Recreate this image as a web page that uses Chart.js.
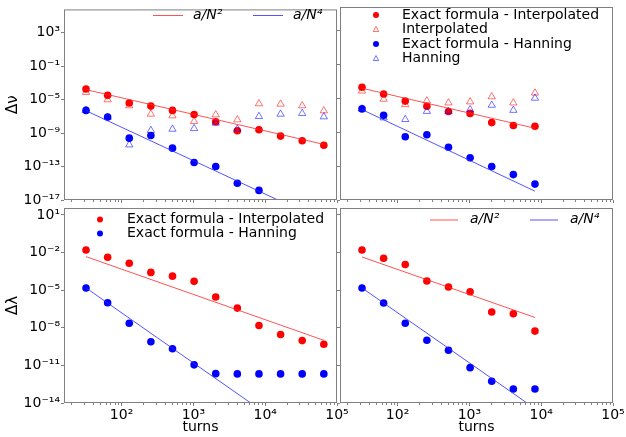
<!DOCTYPE html>
<html>
<head>
<meta charset="utf-8">
<script src="https://cdn.jsdelivr.net/npm/chart.js@4.4.0/dist/chart.umd.min.js"></script>
<style>
  body { margin: 0; background: #fff; }
  #wrap { position: relative; width: 626px; height: 437px; }
  #wrap canvas { position: absolute; left: 0; top: 0; }
</style>
</head>
<body>
<div id="wrap">
  <canvas id="nu-left" width="626" height="437"></canvas>
  <canvas id="nu-right" width="626" height="437"></canvas>
  <canvas id="lam-left" width="626" height="437"></canvas>
  <canvas id="lam-right" width="626" height="437"></canvas>
</div>
<script>
// turns (x values)
const turnsLong = [32, 64, 128, 256, 512, 1024, 2048, 4096, 8192, 16384, 32768, 65536]
const turnsShort = [32, 64, 128, 256, 512, 1024, 2048, 4096, 8192]
const fitTurnsLong = [32, 65536]
const fitTurnsShort = [32, 8192]

// Δν, left panel
const nuL_exactInterp = [1.9e-4, 3.3e-5, 4.0e-6, 1.7e-6, 5.2e-7, 1.7e-7, 2.3e-8, 1.9e-9, 2.5e-9, 4.4e-10, 1.2e-10, 3.6e-11]
const nuL_interp = [7.6e-5, 1.0e-5, 1.9e-6, 1.9e-7, 1.2e-7, 2.5e-8, 1.6e-7, 4.0e-8, 3.3e-6, 3.0e-6, 1.9e-6, 4.8e-7]
const nuL_exactHann = [5.2e-7, 8.3e-8, 2.5e-10, 5.2e-10, 1.6e-11, 3.0e-13, 1.0e-13, 1.0e-15, 1.4e-16]
const nuL_hann = [5.2e-7, 7.9e-8, 4.0e-11, 2.1e-9, 3.0e-9, 3.6e-9, 1.6e-8, 3.0e-9, 1.0e-7, 1.9e-7, 2.3e-7, 9.1e-8]
const nuL_fitN2 = [1.6e-4, 4.5e-11]
const nuL_fitN4 = [4.8e-7, 2.8e-20]

// Δν, right panel
const nuR_exactInterp = [2.1e-4, 3.3e-5, 4.8e-6, 1.2e-6, 2.8e-7, 1.7e-7, 1.4e-8, 6.3e-9, 5.2e-9]
const nuR_interp = [7.6e-5, 8.3e-6, 1.9e-6, 5.2e-6, 3.0e-6, 4.0e-6, 1.6e-5, 3.0e-6, 4.4e-5]
const nuR_exactHann = [5.8e-7, 1.0e-7, 3.0e-10, 5.2e-10, 1.7e-11, 1.0e-12, 9.1e-14, 1.0e-14, 7.6e-16]
const nuR_hann = [5.8e-7, 5.2e-8, 3.3e-8, 3.0e-7, 3.0e-7, 4.8e-7, 1.6e-6, 4.0e-7, 1.1e-5]
const nuR_fitN2 = [1.6e-4, 3.0e-9]
const nuR_fitN4 = [4.8e-7, 1.1e-16]

// Δλ, left panel
const lamL_exactInterp = [1.6e-2, 4.2e-3, 1.4e-3, 2.6e-4, 1.3e-4, 5.0e-5, 2.8e-6, 3.7e-7, 1.5e-8, 2.9e-9, 9.5e-10, 4.9e-10]
const lamL_exactHann = [1.5e-5, 9.8e-7, 2.3e-8, 7.6e-10, 2.1e-10, 1.1e-11, 2.2e-12, 2.1e-12, 2.1e-12, 2.1e-12, 2.1e-12, 2.1e-12]
const lamL_fitN2 = [4.7e-3, 1.0e-9]
const lamL_fitN4 = [1.5e-5, 8.5e-19]

// Δλ, right panel
const lamR_exactInterp = [1.6e-2, 3.5e-3, 1.1e-3, 5.4e-5, 1.8e-5, 7.4e-6, 1.8e-7, 1.3e-7, 5.4e-9]
const lamR_exactHann = [1.5e-5, 9.3e-7, 2.3e-8, 1.0e-9, 1.6e-10, 6.6e-12, 5.4e-13, 1.3e-13, 1.3e-13]
const lamR_fitN2 = [4.4e-3, 6.6e-8]
const lamR_fitN4 = [1.5e-5, 3.6e-15]

// tick labels
const xTicks = [1e2, 1e3, 1e4, 1e5]
const nuTicks = [1e-17, 1e-13, 1e-9, 1e-5, 1e-1, 1e3]
const lamTicks = [1e-14, 1e-11, 1e-8, 1e-5, 1e-2, 1e1]

const W = 626, H = 437
const RED = "#ff0000"
const BLUE = "#0000ff"
const RED_LIGHT = "rgba(255,0,0,0.55)"
const BLUE_LIGHT = "rgba(0,0,255,0.55)"
const RED_LINE = "rgba(255,40,40,0.8)"
const BLUE_LINE = "rgba(40,40,255,0.8)"
const FONT = "DejaVu Sans"

const SUP = { "-": "\u207b", "0": "\u2070", "1": "\u00b9", "2": "\u00b2", "3": "\u00b3", "4": "\u2074",
  "5": "\u2075", "6": "\u2076", "7": "\u2077", "8": "\u2078", "9": "\u2079" }
function pow10Label(v) {
  const e = Math.round(Math.log10(v))
  return "10" + String(e).split("").map(c => SUP[c]).join("")
}

const pts = (xs, ys) => ys.map((y, i) => ({ x: xs[i], y }))

function dots(label, xs, ys, color) {
  return { label, data: pts(xs, ys), backgroundColor: color, borderColor: color,
    pointStyle: "circle", pointRadius: 3.8, borderWidth: 0, showLine: false }
}
function tris(label, xs, ys, color) {
  return { label, data: pts(xs, ys), backgroundColor: "rgba(0,0,0,0)", borderColor: color,
    pointStyle: "triangle", pointRadius: 4.2, borderWidth: 1, showLine: false }
}
function fit(label, xs, ys, color) {
  return { label, data: pts(xs, ys), borderColor: color, backgroundColor: color,
    pointRadius: 0, borderWidth: 1, showLine: true }
}

const framePlugin = {
  id: "frame",
  afterDatasetsDraw(chart) {
    const { ctx, chartArea: a } = chart
    ctx.save()
    ctx.strokeStyle = "#808080"
    ctx.lineWidth = 1
    ctx.strokeRect(a.left + 0.5, a.top + 0.5, a.right - a.left - 1, a.bottom - a.top - 1)
    // minor ticks on the log x axis
    const xs = chart.scales.x
    ctx.beginPath()
    for (let d = 1; d < 5; d++) {
      for (let k = 2; k < 10; k++) {
        const v = k * Math.pow(10, d)
        if (v < xs.min || v > xs.max) continue
        const px = Math.round(xs.getPixelForValue(v)) + 0.5
        ctx.moveTo(px, a.bottom)
        ctx.lineTo(px, a.bottom + 2)
      }
    }
    ctx.stroke()
    ctx.restore()
  }
}

const legendPlugin = {
  id: "panelLegend",
  afterDraw(chart, args, opts) {
    if (!opts || !opts.items) return
    const ctx = chart.ctx
    ctx.save()
    ctx.textBaseline = "middle"
    ctx.textAlign = "left"
    opts.items.forEach(it => {
      if (it.kind === "line") {
        ctx.strokeStyle = it.color
        ctx.lineWidth = 1
        ctx.beginPath()
        ctx.moveTo(it.x0, it.y + 0.5)
        ctx.lineTo(it.x1, it.y + 0.5)
        ctx.stroke()
        ctx.font = "italic 14px '" + FONT + "'"
      } else if (it.kind === "dot") {
        ctx.fillStyle = it.color
        ctx.beginPath()
        ctx.arc(it.x0, it.y, 3, 0, Math.PI * 2)
        ctx.fill()
        ctx.font = "14px '" + FONT + "'"
      } else {
        ctx.strokeStyle = it.color
        ctx.lineWidth = 1
        ctx.beginPath()
        ctx.moveTo(it.x0, it.y - 3)
        ctx.lineTo(it.x0 + 2.7, it.y + 2)
        ctx.lineTo(it.x0 - 2.7, it.y + 2)
        ctx.closePath()
        ctx.stroke()
        ctx.font = "14px '" + FONT + "'"
      }
      ctx.fillStyle = "#000"
      ctx.fillText(it.text, it.tx, it.y)
    })
    ctx.restore()
  }
}

function panel(id, area, o) {
  const n = o.datasets.length
  o.datasets.forEach((d, i) => { d.order = n - i })
  return new Chart(document.getElementById(id), {
    type: "scatter",
    data: { datasets: o.datasets },
    options: {
      responsive: false,
      animation: false,
      events: [],
      layout: { autoPadding: false, padding: { left: 0, top: area.t, right: W - area.r, bottom: 0 } },
      plugins: { legend: { display: false }, tooltip: { enabled: false }, panelLegend: o.legend },
      scales: {
        x: {
          type: "logarithmic", min: 15.8, max: 1e5,
          afterFit: s => { s.height = H - area.b },
          afterBuildTicks: s => { s.ticks = xTicks.map(v => ({ value: v })) },
          ticks: { display: o.xLabels, callback: v => pow10Label(v), autoSkip: false, maxRotation: 0,
            padding: 1, color: "#000", font: { family: FONT, size: 14 } },
          grid: { drawOnChartArea: false, tickLength: 3, tickColor: "#808080" },
          border: { display: false },
          title: { display: o.xLabels, text: "turns", color: "#000", font: { family: FONT, size: 14 },
            padding: { top: 0, bottom: 1 } }
        },
        y: {
          type: "logarithmic", min: o.yMin, max: o.yMax,
          afterFit: s => { s.width = area.l },
          afterBuildTicks: s => { s.ticks = o.yTicks.map(v => ({ value: v })) },
          ticks: { display: o.yLabels, callback: v => pow10Label(v), autoSkip: false,
            padding: 1, color: "#000", font: { family: FONT, size: 14 } },
          grid: { drawOnChartArea: false, tickLength: 3, tickColor: "#808080" },
          border: { display: false },
          title: { display: !!o.yTitle, text: o.yTitle || "", color: "#000", font: { family: FONT, size: 15 },
            padding: { top: 4, bottom: 0 } }
        }
      }
    },
    plugins: [framePlugin, legendPlugin]
  })
}

const NU_MIN = 1e-17, NU_MAX = Math.pow(10, 5.8)
const LAM_MIN = 1e-14, LAM_MAX = Math.pow(10, 1.55)

panel("nu-left", { l: 64, t: 7, r: 337, b: 200 }, {
  yMin: NU_MIN, yMax: NU_MAX, yTicks: nuTicks, xLabels: false, yLabels: true, yTitle: "\u0394\u03bd",
  datasets: [
    dots("Exact formula - Interpolated", turnsLong, nuL_exactInterp, RED),
    tris("Interpolated", turnsLong, nuL_interp, RED_LIGHT),
    dots("Exact formula - Hanning", turnsShort, nuL_exactHann, BLUE),
    tris("Hanning", turnsLong, nuL_hann, BLUE_LIGHT),
    fit("a/N\u00b2", fitTurnsLong, nuL_fitN2, RED_LINE),
    fit("a/N\u2074", fitTurnsLong, nuL_fitN4, BLUE_LINE)
  ],
  legend: { items: [
    { kind: "line", color: RED_LINE, x0: 153, x1: 183, tx: 193, y: 15, text: "a/N\u00b2" },
    { kind: "line", color: BLUE_LINE, x0: 253, x1: 283, tx: 293, y: 15, text: "a/N\u2074" }
  ] }
})

panel("nu-right", { l: 340, t: 7, r: 613, b: 200 }, {
  yMin: NU_MIN, yMax: NU_MAX, yTicks: nuTicks, xLabels: false, yLabels: false,
  datasets: [
    dots("Exact formula - Interpolated", turnsShort, nuR_exactInterp, RED),
    tris("Interpolated", turnsShort, nuR_interp, RED_LIGHT),
    dots("Exact formula - Hanning", turnsShort, nuR_exactHann, BLUE),
    tris("Hanning", turnsShort, nuR_hann, BLUE_LIGHT),
    fit("a/N\u00b2", fitTurnsShort, nuR_fitN2, RED_LINE),
    fit("a/N\u2074", fitTurnsShort, nuR_fitN4, BLUE_LINE)
  ],
  legend: { items: [
    { kind: "dot", color: RED, x0: 376, tx: 402, y: 15, text: "Exact formula - Interpolated" },
    { kind: "tri", color: RED_LIGHT, x0: 376, tx: 402, y: 29.5, text: "Interpolated" },
    { kind: "dot", color: BLUE, x0: 376, tx: 402, y: 44, text: "Exact formula - Hanning" },
    { kind: "tri", color: BLUE_LIGHT, x0: 376, tx: 402, y: 58.5, text: "Hanning" }
  ] }
})

panel("lam-left", { l: 64, t: 208, r: 337, b: 403 }, {
  yMin: LAM_MIN, yMax: LAM_MAX, yTicks: lamTicks, xLabels: true, yLabels: true, yTitle: "\u0394\u03bb",
  datasets: [
    dots("Exact formula - Interpolated", turnsLong, lamL_exactInterp, RED),
    dots("Exact formula - Hanning", turnsLong, lamL_exactHann, BLUE),
    fit("a/N\u00b2", fitTurnsLong, lamL_fitN2, RED_LINE),
    fit("a/N\u2074", fitTurnsLong, lamL_fitN4, BLUE_LINE)
  ],
  legend: { items: [
    { kind: "dot", color: RED, x0: 100, tx: 127, y: 219.5, text: "Exact formula - Interpolated" },
    { kind: "dot", color: BLUE, x0: 100, tx: 127, y: 233.5, text: "Exact formula - Hanning" }
  ] }
})

panel("lam-right", { l: 340, t: 208, r: 613, b: 403 }, {
  yMin: LAM_MIN, yMax: LAM_MAX, yTicks: lamTicks, xLabels: true, yLabels: false,
  datasets: [
    dots("Exact formula - Interpolated", turnsShort, lamR_exactInterp, RED),
    dots("Exact formula - Hanning", turnsShort, lamR_exactHann, BLUE),
    fit("a/N\u00b2", fitTurnsShort, lamR_fitN2, RED_LINE),
    fit("a/N\u2074", fitTurnsShort, lamR_fitN4, BLUE_LINE)
  ],
  legend: { items: [
    { kind: "line", color: RED_LINE, x0: 430, x1: 458, tx: 470, y: 219.5, text: "a/N\u00b2" },
    { kind: "line", color: BLUE_LINE, x0: 530, x1: 558, tx: 570, y: 219.5, text: "a/N\u2074" }
  ] }
})
</script>
</body>
</html>
